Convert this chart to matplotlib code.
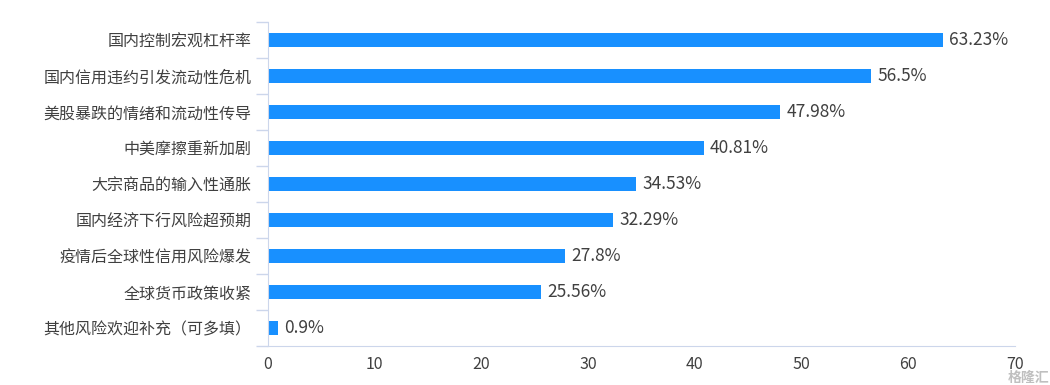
import matplotlib.pyplot as plt
import numpy as np

plt.rcParams['font.family'] = ['Noto Sans CJK SC', 'DejaVu Sans']

# 数据
categories = ['国内控制宏观杠杆率', '国内信用违约引发流动性危机', '美股暴跌的情绪和流动性传导',
              '中美摩擦重新加剧', '大宗商品的输入性通胀', '国内经济下行风险超预期',
              '疫情后全球性信用风险爆发', '全球货币政策收紧', '其他风险欢迎补充（可多填）']
values = [63.23, 56.5, 47.98, 40.81, 34.53, 32.29, 27.8, 25.56, 0.9]
value_labels = ['63.23%', '56.5%', '47.98%', '40.81%', '34.53%', '32.29%', '27.8%', '25.56%', '0.9%']
xticks = [0, 10, 20, 30, 40, 50, 60, 70]

axis_col = '#ccd6eb'
text_col = '#404040'

fig = plt.figure(figsize=(10.5, 3.85), dpi=100)
ax = fig.add_axes([0.2552, 0.1013, 0.7115, 0.8416])

y = np.arange(len(categories))
ax.barh(y, values, height=0.37, color='#1890ff')

for yi, v, lab in zip(y, values, value_labels):
    ax.text(v + 0.6, yi, lab, va='center', ha='left', fontsize=12.5, color=text_col)

ax.set_xlim(0, 70)
ax.set_ylim(len(categories) - 0.5, -0.5)
ax.set_xticks(xticks)
ax.set_xticklabels([str(t) for t in xticks], fontsize=11.5, color=text_col)
ax.set_yticks(y)
ax.set_yticklabels(categories, fontsize=11.5, color=text_col)
ax.set_yticks(np.arange(-0.5, len(categories)), minor=True)

ax.tick_params(axis='y', which='major', length=0, pad=12)
ax.tick_params(axis='y', which='minor', length=9, color=axis_col, width=1)
ax.tick_params(axis='x', length=0, pad=7)

for s in ['top', 'right']:
    ax.spines[s].set_visible(False)
ax.spines['left'].set_color(axis_col)
ax.spines['bottom'].set_color(axis_col)

# 水印
fig.text(0.999, 0.0, '格隆汇', ha='right', va='bottom', fontsize=10,
         color='#b0b0b0', alpha=0.8, fontweight='bold')

fig.savefig('out.png', dpi=100, facecolor='white')
